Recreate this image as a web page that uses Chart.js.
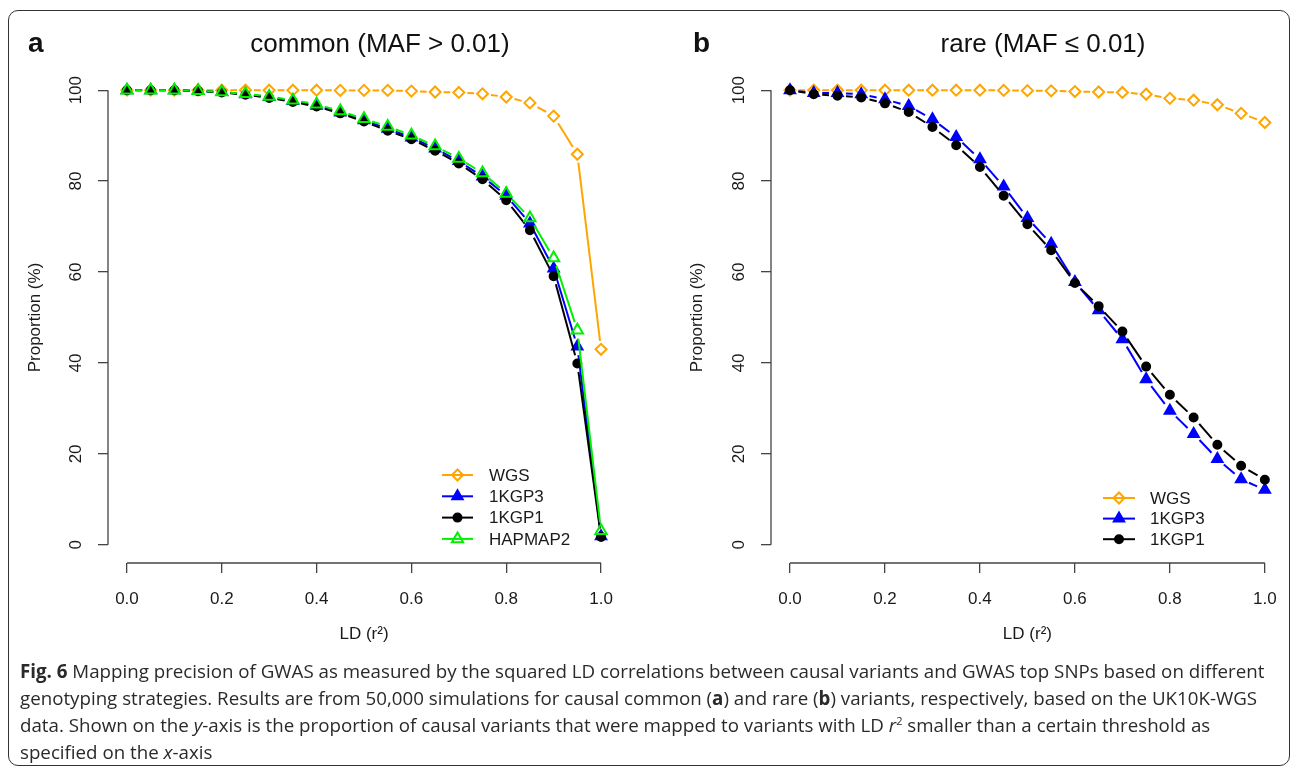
<!DOCTYPE html>
<html>
<head>
<meta charset="utf-8">
<script src="https://cdn.jsdelivr.net/npm/chart.js@4.4.1/dist/chart.umd.min.js"></script>
<style>
  body { margin: 0; width: 1293px; height: 768px; background: #fff; position: relative; overflow: hidden; font-family: "Liberation Sans", Arial, sans-serif; }
  .frame { position: absolute; left: 8px; top: 10px; width: 1282px; height: 756px; border: 1.5px solid #333; border-radius: 10px; box-sizing: border-box; }
  canvas { position: absolute; top: 0; }
  .tag { position: absolute; top: 29px; font-weight: bold; font-size: 28px; line-height: 28px; color: #111; }
  .title { position: absolute; top: 30px; font-size: 26px; line-height: 26px; color: #111; transform: translateX(-50%); white-space: nowrap; }
  .caption { position: absolute; left: 20px; top: 657px; font-family: "Open Sans", "Noto Sans", sans-serif; font-size: 17.5px; line-height: 27px; color: #2a2a2a; }
  .caption div { white-space: nowrap; }
  .caption span.line { display: inline-block; }
  .caption sup { font-size: 11px; line-height: 0; }
</style>
</head>
<body>
<div class="frame"></div>
<canvas id="chartA" width="646" height="660" style="left:0"></canvas>
<canvas id="chartB" width="643" height="660" style="left:650px"></canvas>
<div class="tag" style="left:28px">a</div>
<div class="title" style="left:380px">common (MAF &gt; 0.01)</div>
<div class="tag" style="left:693px">b</div>
<div class="title" style="left:1043px">rare (MAF ≤ 0.01)</div>
<div class="caption">
  <div><span class="line" id="capFirst"><b>Fig. 6</b> Mapping precision of GWAS as measured by the squared LD correlations between causal variants and GWAS top SNPs based on different</span></div>
  <div>genotyping strategies. Results are from 50,000 simulations for causal common (<b>a</b>) and rare (<b>b</b>) variants, respectively, based on the UK10K-WGS</div>
  <div>data. Shown on the <i>y</i>-axis is the proportion of causal variants that were mapped to variants with LD <i>r</i><sup>2</sup> smaller than a certain threshold as</div>
  <div>specified on the <i>x</i>-axis</div>
</div>
<script>
// LD thresholds (x) and tick labels
let ldSteps = [0, 0.05, 0.1, 0.15, 0.2, 0.25, 0.3, 0.35, 0.4, 0.45, 0.5, 0.55, 0.6, 0.65, 0.7, 0.75, 0.8, 0.85, 0.9, 0.95, 1.0]
let xTicks = [0, 0.2, 0.4, 0.6, 0.8, 1.0]
let yTicks = [0, 20, 40, 60, 80, 100]

// panel a - common variants
let commonWGS = [100, 100, 100, 100, 100, 100, 100, 100, 100, 99.95, 99.95, 99.95, 99.8, 99.6, 99.5, 99.2, 98.5, 97.2, 94.3, 85.9, 43.0]
let common1KGP3 = [100, 100, 100, 99.8, 99.6, 99.1, 98.5, 97.6, 96.6, 95.1, 93.4, 91.5, 89.6, 87.2, 84.4, 81.0, 76.8, 70.7, 60.8, 43.6, 1.9]
let common1KGP1 = [100, 100, 100, 99.8, 99.5, 99.0, 98.3, 97.4, 96.4, 94.9, 93.1, 91.1, 89.2, 86.7, 83.9, 80.4, 75.8, 69.2, 59.1, 39.9, 1.7]
let commonHAPMAP2 = [100, 100, 100, 99.85, 99.6, 99.2, 98.6, 97.8, 96.9, 95.4, 93.7, 92.0, 90.1, 87.7, 85.0, 81.8, 77.3, 71.9, 63.1, 47.2, 3.1]

// panel b - rare variants
let rareWGS = [100, 100, 100, 100, 100, 100, 100, 100, 100, 99.95, 99.9, 99.85, 99.7, 99.6, 99.5, 99.1, 98.2, 97.8, 96.8, 94.9, 92.9]
let rare1KGP3 = [100, 99.4, 99.4, 99.1, 98.0, 96.5, 93.6, 89.7, 84.8, 78.8, 71.9, 66.2, 57.8, 51.6, 45.2, 36.4, 29.5, 24.4, 18.9, 14.4, 12.1]
let rare1KGP1 = [100, 99.1, 98.8, 98.4, 97.1, 95.2, 91.9, 87.9, 83.1, 76.8, 70.5, 64.8, 57.6, 52.5, 46.9, 39.2, 33.0, 28.0, 22.0, 17.4, 14.3]

const axisColor = '#444'
const textColor = '#1a1a1a'
const GAP = 8.5  // like R type="b": line stops short of each point

// caption: fit the first line to the width it has in the figure
let capFirst = document.getElementById('capFirst')
let caption = document.querySelector('.caption')
caption.style.fontSize = (17.5 * 1245 / capFirst.getBoundingClientRect().width) + 'px'

Chart.defaults.font.family = '"Liberation Sans", Arial, sans-serif'
Chart.defaults.color = textColor

// each segment gets its own dash so the gap restarts at every point
function gapDash(ctx) {
    let dx = ctx.p1.x - ctx.p0.x, dy = ctx.p1.y - ctx.p0.y
    let len = Math.sqrt(dx * dx + dy * dy)
    return [0, GAP, Math.max(len - 2 * GAP, 0) + ctx.p0DataIndex * 0.001, 5000]
}

let styles = {
    WGS:     { color: '#FFA500', pointStyle: 'rectRot', radius: 5.5, fill: 'rgba(0,0,0,0)' },
    '1KGP3': { color: '#0000FF', pointStyle: 'triangle', radius: 6, fill: '#0000FF' },
    '1KGP1': { color: '#000000', pointStyle: 'circle', radius: 4, fill: '#000000' },
    HAPMAP2: { color: '#00F000', pointStyle: 'triangle', radius: 6.5, fill: 'rgba(0,0,0,0)' }
}

function makeSet(label, values, order) {
    let s = styles[label]
    return {
        label: label,
        data: ldSteps.map((x, i) => ({ x: x, y: values[i] })),
        order: order,
        borderColor: s.color,
        borderWidth: 2,
        pointStyle: s.pointStyle,
        pointRadius: s.radius,
        pointBackgroundColor: s.fill,
        pointBorderColor: s.color,
        pointBorderWidth: 2,
        segment: { borderDash: gapDash }
    }
}

// R style axis lines, only from first to last tick
const axisLines = {
    id: 'axisLines',
    afterDraw(chart) {
        let ctx = chart.ctx, x = chart.scales.x, y = chart.scales.y
        ctx.save()
        ctx.strokeStyle = axisColor
        ctx.lineWidth = 1.3
        ctx.beginPath()
        ctx.moveTo(x.getPixelForValue(xTicks[0]), x.top)
        ctx.lineTo(x.getPixelForValue(xTicks[xTicks.length - 1]), x.top)
        ctx.moveTo(y.right, y.getPixelForValue(yTicks[0]))
        ctx.lineTo(y.right, y.getPixelForValue(yTicks[yTicks.length - 1]))
        ctx.stroke()
        ctx.restore()
    }
}

// legend drawn inside the plot like R's legend()
const rLegend = {
    id: 'rLegend',
    afterDraw(chart, args, opts) {
        let ctx = chart.ctx
        ctx.save()
        chart.data.datasets.forEach((ds, i) => {
            let s = styles[ds.label]
            let y = opts.top + i * opts.step
            ctx.strokeStyle = s.color
            ctx.lineWidth = 2
            ctx.beginPath()
            ctx.moveTo(opts.x0, y)
            ctx.lineTo(opts.x1, y)
            ctx.stroke()
            ctx.fillStyle = s.fill
            Chart.helpers.drawPoint(ctx, { pointStyle: s.pointStyle, radius: s.radius, rotation: 0, borderWidth: 2 }, (opts.x0 + opts.x1) / 2, y)
            ctx.fillStyle = textColor
            ctx.font = '17px "Liberation Sans", Arial, sans-serif'
            ctx.textBaseline = 'middle'
            ctx.fillText(ds.label, opts.text, y + 1)
        })
        ctx.restore()
    }
}

function makeOptions(yWidth, yTitlePad, padRight, legend) {
    return {
        responsive: false,
        animation: false,
        layout: { padding: { left: 0, right: padRight, top: 72, bottom: 10 } },
        plugins: {
            legend: { display: false },
            tooltip: { enabled: false },
            rLegend: legend
        },
        scales: {
            x: {
                type: 'linear',
                min: -0.04,
                max: 1.04,
                afterBuildTicks: s => { s.ticks = xTicks.map(v => ({ value: v })) },
                afterFit: s => { s.height = 87 },
                border: { display: false },
                grid: { drawOnChartArea: false, tickLength: 10, color: axisColor, lineWidth: 1.3 },
                ticks: { autoSkip: false, maxRotation: 0, padding: 16, font: { size: 17 }, color: textColor,
                         callback: v => v.toFixed(1) },
                title: { display: true, text: 'LD (r²)', font: { size: 17 }, color: textColor, padding: { bottom: 5 } }
            },
            y: {
                type: 'linear',
                min: -4,
                max: 104,
                afterBuildTicks: s => { s.ticks = yTicks.map(v => ({ value: v })) },
                afterFit: s => { s.width = yWidth },
                border: { display: false },
                grid: { drawOnChartArea: false, tickLength: 10, color: axisColor, lineWidth: 1.3 },
                ticks: { minRotation: 90, maxRotation: 90, crossAlign: 'center', padding: 8, font: { size: 17 }, color: textColor },
                title: { display: true, text: 'Proportion (%)', font: { size: 17 }, color: textColor, padding: { top: yTitlePad } }
            }
        }
    }
}

let chartA = new Chart(document.getElementById('chartA'), {
    type: 'line',
    data: {
        datasets: [
            makeSet('WGS', commonWGS, 4),
            makeSet('1KGP3', common1KGP3, 3),
            makeSet('1KGP1', common1KGP1, 2),
            makeSet('HAPMAP2', commonHAPMAP2, 1)
        ]
    },
    options: makeOptions(108, 25, 26, { x0: 442, x1: 473, text: 489, top: 475, step: 21.3 }),
    plugins: [axisLines, rLegend]
})

let chartB = new Chart(document.getElementById('chartB'), {
    type: 'line',
    data: {
        datasets: [
            makeSet('WGS', rareWGS, 3),
            makeSet('1KGP3', rare1KGP3, 2),
            makeSet('1KGP1', rare1KGP1, 1)
        ]
    },
    options: makeOptions(121, 37, 9, { x0: 453, x1: 485, text: 500, top: 498, step: 20.6 }),
    plugins: [axisLines, rLegend]
})
</script>
</body>
</html>
